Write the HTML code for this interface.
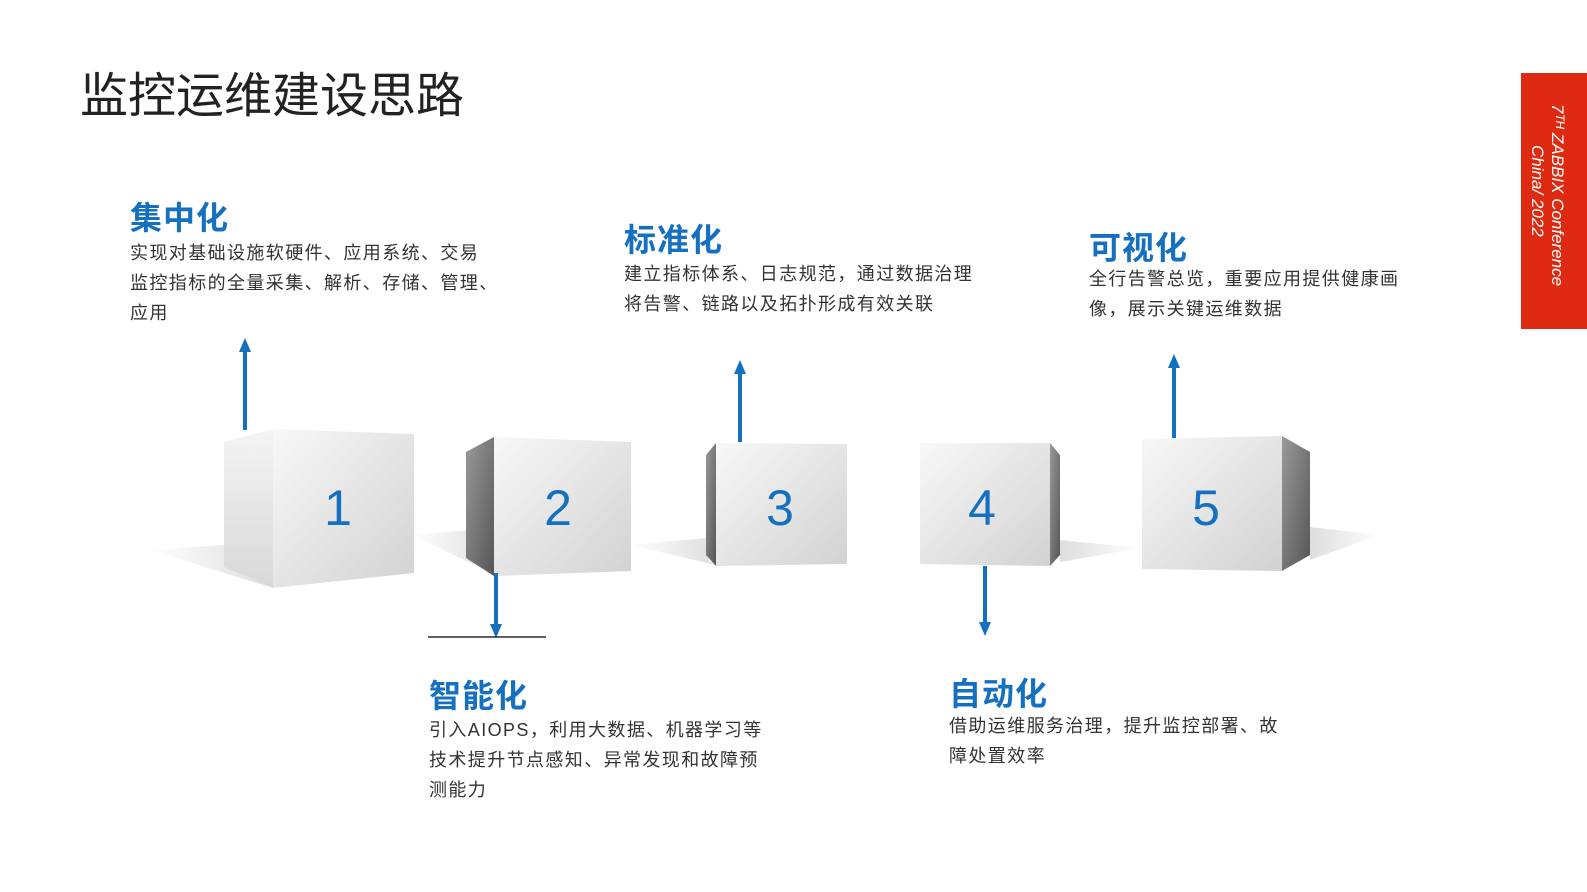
<!DOCTYPE html>
<html><head><meta charset="utf-8"><style>
body{margin:0;width:1587px;height:892px;background:#fff;overflow:hidden;font-family:"Liberation Sans","Noto Sans CJK SC",sans-serif;}
.t{position:absolute;white-space:nowrap}
.h{color:#1670c0;font-weight:bold;font-size:32px;letter-spacing:1px}
.d{color:#333;font-size:18px;line-height:30px;letter-spacing:1.4px}
</style></head><body>
<svg width="1587" height="892" style="position:absolute;left:0;top:0">
<defs>
<linearGradient id="f" x1="0" y1="0" x2="1" y2="1"><stop offset="0" stop-color="#f8f8f8"/><stop offset="1" stop-color="#d2d2d2"/></linearGradient>
<linearGradient id="s" x1="0" y1="0" x2="0" y2="1"><stop offset="0" stop-color="#f4f4f4"/><stop offset="1" stop-color="#d8d8d8"/></linearGradient>
<linearGradient id="dk" x1="0" y1="0" x2="1" y2="1"><stop offset="0" stop-color="#9a9a9a"/><stop offset="1" stop-color="#555"/></linearGradient>
<linearGradient id="sh" x1="0" y1="0" x2="1" y2="0"><stop offset="0" stop-color="#fff"/><stop offset="1" stop-color="#ddd"/></linearGradient>
<linearGradient id="shr" x1="0" y1="0" x2="1" y2="0"><stop offset="0" stop-color="#ddd"/><stop offset="1" stop-color="#fff"/></linearGradient>
<marker id="a" markerUnits="userSpaceOnUse" markerWidth="14" markerHeight="14" refX="2" refY="7" orient="auto"><path d="M0,1 L14,7 L0,13z" fill="#1670c0"/></marker>
</defs>
<polygon points="150,550 224,545 224,567 273,588" fill="url(#sh)"/>
<polygon points="412,535 470,530 470,560 498,576" fill="url(#sh)"/>
<polygon points="630,545 708,538 708,560 716,565" fill="url(#sh)"/>
<polygon points="1060,540 1140,548 1060,562" fill="url(#shr)"/>
<polygon points="1310,527 1380,535 1310,560" fill="url(#shr)"/>
<polygon points="224,442 273,429 273,588 224,567" fill="url(#s)"/>
<polygon points="273,429 414,434 414,573 273,588" fill="url(#f)"/>
<polygon points="466,452 494,437 494,576 466,558" fill="url(#dk)"/>
<polygon points="494,437 631,442 631,571 494,576" fill="url(#f)"/>
<polygon points="706,455 716,443 716,566 706,555" fill="url(#dk)"/>
<polygon points="716,443 847,444 847,564 716,566" fill="url(#f)"/>
<polygon points="920,443 1050,443 1050,566 920,564" fill="url(#f)"/>
<polygon points="1050,443 1060,455 1060,555 1050,566" fill="url(#dk)"/>
<polygon points="1142,439 1282,436 1282,571 1142,569" fill="url(#f)"/>
<polygon points="1282,436 1310,452 1310,555 1282,571" fill="url(#dk)"/>
<g fill="#1670c0" font-size="50" font-family="Liberation Sans" text-anchor="middle">
<text x="338" y="525">1</text><text x="558" y="525">2</text><text x="780" y="525">3</text><text x="982" y="525">4</text><text x="1206" y="525">5</text></g>
<g stroke="#1670c0" stroke-width="4">
<line x1="245" y1="430" x2="245" y2="350" marker-end="url(#a)"/>
<line x1="496" y1="573" x2="496" y2="626" marker-end="url(#a)"/>
<line x1="740" y1="442" x2="740" y2="372" marker-end="url(#a)"/>
<line x1="985" y1="566" x2="985" y2="624" marker-end="url(#a)"/>
<line x1="1174" y1="438" x2="1174" y2="366" marker-end="url(#a)"/>
</g>
<line x1="428" y1="637" x2="546" y2="637" stroke="#000" stroke-width="1.2"/>
<rect x="1521" y="73" width="66" height="256" fill="#de2a10"/>
<text transform="translate(1552,104) rotate(90)" fill="#fff" font-size="17" font-style="italic" font-family="Liberation Sans">7ᵀᴴ ZABBIX Conference</text>
<text transform="translate(1532,145) rotate(90)" fill="#fff" font-size="17" font-style="italic" font-family="Liberation Sans">China/ 2022</text>
</svg>
<div class="t" style="left:80px;top:56px;font-size:48px;color:#222">监控运维建设思路</div>
<div class="t h" style="left:130px;top:193px">集中化</div>
<div class="t d" style="left:130px;top:238px">实现对基础设施软硬件、应用系统、交易<br>监控指标的全量采集、解析、存储、管理、<br>应用</div>
<div class="t h" style="left:624px;top:215px">标准化</div>
<div class="t d" style="left:624px;top:259px">建立指标体系、日志规范，通过数据治理<br>将告警、链路以及拓扑形成有效关联</div>
<div class="t h" style="left:1089px;top:223px">可视化</div>
<div class="t d" style="left:1089px;top:264px">全行告警总览，重要应用提供健康画<br>像，展示关键运维数据</div>
<div class="t h" style="left:429px;top:671px">智能化</div>
<div class="t d" style="left:429px;top:715px">引入AIOPS，利用大数据、机器学习等<br>技术提升节点感知、异常发现和故障预<br>测能力</div>
<div class="t h" style="left:949px;top:669px">自动化</div>
<div class="t d" style="left:949px;top:711px">借助运维服务治理，提升监控部署、故<br>障处置效率</div>
</body></html>
